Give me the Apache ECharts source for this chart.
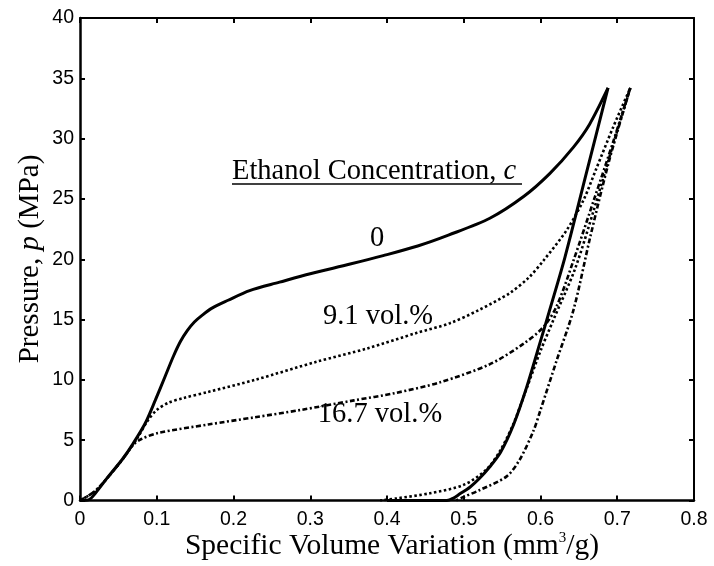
<!DOCTYPE html>
<html>
<head>
<meta charset="utf-8">
<script src="https://cdn.jsdelivr.net/npm/echarts@6/dist/echarts.min.js"></script>
<style>
  html, body { margin: 0; padding: 0; background: #ffffff; }
  #chart { width: 714px; height: 566px; }
</style>
</head>
<body>
<div id="chart"></div>
<script>
// Axis ranges and tick spacing
const xRange = [0, 0.8];
const xStep = 0.1;
const yRange = [0, 40];
const yStep = 5;

// Pressure–volume curves, [specific volume variation (mm^3/g), pressure (MPa)]
// Pure water (c = 0): loading branch
const water0Loading = [
  [0, 0], [0.011, 0.05], [0.02, 0.6], [0.037, 2.0], [0.055, 3.4], [0.069, 4.7],
  [0.085, 6.4], [0.098, 8.3], [0.111, 10.3], [0.122, 12.0], [0.131, 13.2],
  [0.14, 14.1], [0.149, 14.8], [0.159, 15.35], [0.172, 15.95], [0.193, 16.6],
  [0.221, 17.4], [0.26, 18.1], [0.3, 18.8], [0.352, 19.6], [0.395, 20.3],
  [0.44, 21.1], [0.48, 22.0], [0.534, 23.4], [0.578, 25.2], [0.612, 27.1],
  [0.643, 29.3], [0.664, 31.2], [0.688, 34.2]
];
// Pure water (c = 0): unloading branch
const water0Unloading = [
  [0.688, 34.2], [0.66, 27.2], [0.632, 20.2], [0.612, 15.8], [0.599, 13.0],
  [0.582, 9.4], [0.565, 6.3], [0.548, 4.0], [0.534, 2.8], [0.52, 1.8],
  [0.508, 1.1], [0.495, 0.55], [0.486, 0.18], [0.478, 0], [0.40, 0]
];
// 9.1 vol.% ethanol: loading branch
const eth91Loading = [
  [0, 0], [0.02, 0.8], [0.04, 2.2], [0.06, 3.8], [0.075, 5.2], [0.088, 6.6],
  [0.1, 7.5], [0.115, 8.1], [0.135, 8.5], [0.167, 9.0], [0.228, 10.0],
  [0.308, 11.5], [0.374, 12.6], [0.439, 13.9], [0.482, 14.7], [0.52, 15.8],
  [0.56, 17.2], [0.585, 18.5], [0.604, 19.9], [0.634, 22.4], [0.656, 24.9],
  [0.672, 27.4], [0.695, 31.0], [0.717, 34.2]
];
// 9.1 vol.% ethanol: unloading branch
const eth91Unloading = [
  [0.717, 34.2], [0.695, 29.6], [0.67, 24.2], [0.645, 19.2], [0.617, 15.0],
  [0.6, 12.4], [0.582, 9.3], [0.565, 6.4], [0.548, 4.2], [0.53, 2.6],
  [0.5, 1.3], [0.456, 0.6], [0.413, 0.18], [0.391, 0]
];
// 16.7 vol.% ethanol: loading branch
const eth167Loading = [
  [0, 0], [0.02, 0.8], [0.04, 2.2], [0.06, 3.8], [0.069, 4.6], [0.08, 5.1],
  [0.102, 5.6], [0.167, 6.3], [0.228, 6.9], [0.287, 7.5], [0.357, 8.3],
  [0.41, 8.9], [0.469, 9.8], [0.534, 11.3], [0.578, 13.0], [0.604, 14.4],
  [0.621, 16.1], [0.643, 19.9], [0.67, 25.0], [0.695, 29.8], [0.717, 34.2]
];
// 16.7 vol.% ethanol: unloading branch
const eth167Unloading = [
  [0.717, 34.2], [0.69, 28.3], [0.665, 21.9], [0.643, 15.8], [0.621, 11.6],
  [0.6, 7.5], [0.591, 5.8], [0.573, 3.4], [0.556, 2.0], [0.521, 0.87],
  [0.5, 0.3], [0.49, 0]
];

// Curve labels
const concentrationTitle = 'Ethanol Concentration, ';
const curveLabels = ['0', '9.1 vol.%', '16.7 vol.%'];

const chart = echarts.init(document.getElementById('chart'), null, { renderer: 'canvas' });

const serif = '"Liberation Serif", "Times New Roman", serif';
const sans = '"Liberation Sans", Arial, sans-serif';

const frameAxisX = (pos, labels) => ({
  type: 'value',
  position: pos,
  min: xRange[0],
  max: xRange[1],
  interval: xStep,
  axisLine: { show: true, onZero: false, lineStyle: { color: '#000', width: pos === 'bottom' ? 2.5 : 2 } },
  axisTick: { show: true, inside: true, length: 5, lineStyle: { color: '#000', width: 2 } },
  axisLabel: { show: labels, color: '#000', fontFamily: sans, fontSize: 19.5, margin: 9 },
  splitLine: { show: false }
});
const frameAxisY = (pos, labels) => ({
  type: 'value',
  position: pos,
  min: yRange[0],
  max: yRange[1],
  interval: yStep,
  axisLine: { show: true, onZero: false, lineStyle: { color: '#000', width: pos === 'left' ? 2.5 : 2 } },
  axisTick: { show: true, inside: true, length: 5, lineStyle: { color: '#000', width: 2 } },
  axisLabel: { show: labels, color: '#000', fontFamily: sans, fontSize: 19.5, margin: 6 },
  splitLine: { show: false }
});

const curve = (data, width, dash) => ({
  type: 'line',
  data: data,
  xAxisIndex: 0,
  yAxisIndex: 0,
  showSymbol: false,
  smooth: 0.3,
  silent: true,
  lineStyle: { color: '#000', width: width, type: dash, cap: 'butt' },
  z: 3
});

const solid = 'solid';
const dotted = [2.5, 2.5];
const dashDot = [5, 2.5, 2, 2.5];

chart.setOption({
  animation: false,
  backgroundColor: '#ffffff',
  grid: { left: 80, right: 20, top: 18, bottom: 65.5, containLabel: false },
  xAxis: [frameAxisX('bottom', true), frameAxisX('top', false)],
  yAxis: [frameAxisY('left', true), frameAxisY('right', false)],
  series: [
    curve(water0Loading, 3, solid),
    curve(water0Unloading, 3, solid),
    curve(eth91Loading, 2.6, dotted),
    curve(eth91Unloading, 2.6, dotted),
    curve(eth167Loading, 2.6, dashDot),
    curve(eth167Unloading, 2.6, dashDot)
  ],
  graphic: [
    {
      type: 'text', x: 232, y: 172,
      style: {
        text: '{r|' + concentrationTitle + '}{i|c}',
        textVerticalAlign: 'middle',
        rich: {
          r: { fontFamily: serif, fontSize: 28.5, fill: '#000' },
          i: { fontFamily: serif, fontSize: 28.5, fontStyle: 'italic', fill: '#000' }
        }
      }
    },
    { type: 'line', shape: { x1: 232, y1: 184, x2: 522, y2: 184 }, style: { stroke: '#000', lineWidth: 1.5 } },
    {
      type: 'text', x: 377, y: 239,
      style: { text: curveLabels[0], fontFamily: serif, fontSize: 28.5, fill: '#000', textAlign: 'center', textVerticalAlign: 'middle' }
    },
    {
      type: 'text', x: 378, y: 317,
      style: { text: curveLabels[1], fontFamily: serif, fontSize: 28.5, fill: '#000', textAlign: 'center', textVerticalAlign: 'middle' }
    },
    {
      type: 'text', x: 380, y: 415,
      style: { text: curveLabels[2], fontFamily: serif, fontSize: 28.5, fill: '#000', textAlign: 'center', textVerticalAlign: 'middle' }
    },
    {
      type: 'text', x: 392, y: 546,
      style: {
        text: '{r|Specific Volume Variation (mm}{s|3}{r|/g)}',
        textAlign: 'center', textVerticalAlign: 'middle',
        rich: {
          r: { fontFamily: serif, fontSize: 29.5, fill: '#000' },
          s: { fontFamily: serif, fontSize: 15, fill: '#000', verticalAlign: 'top', padding: [0, 0, 11, 0] }
        }
      }
    },
    {
      type: 'text', x: 30, y: 259, rotation: Math.PI / 2,
      style: {
        text: '{r|Pressure, }{i|p}{r| (MPa)}',
        textAlign: 'center', textVerticalAlign: 'middle',
        rich: {
          r: { fontFamily: serif, fontSize: 29, fill: '#000' },
          i: { fontFamily: serif, fontSize: 29, fontStyle: 'italic', fill: '#000' }
        }
      }
    }
  ]
});
</script>
</body>
</html>
